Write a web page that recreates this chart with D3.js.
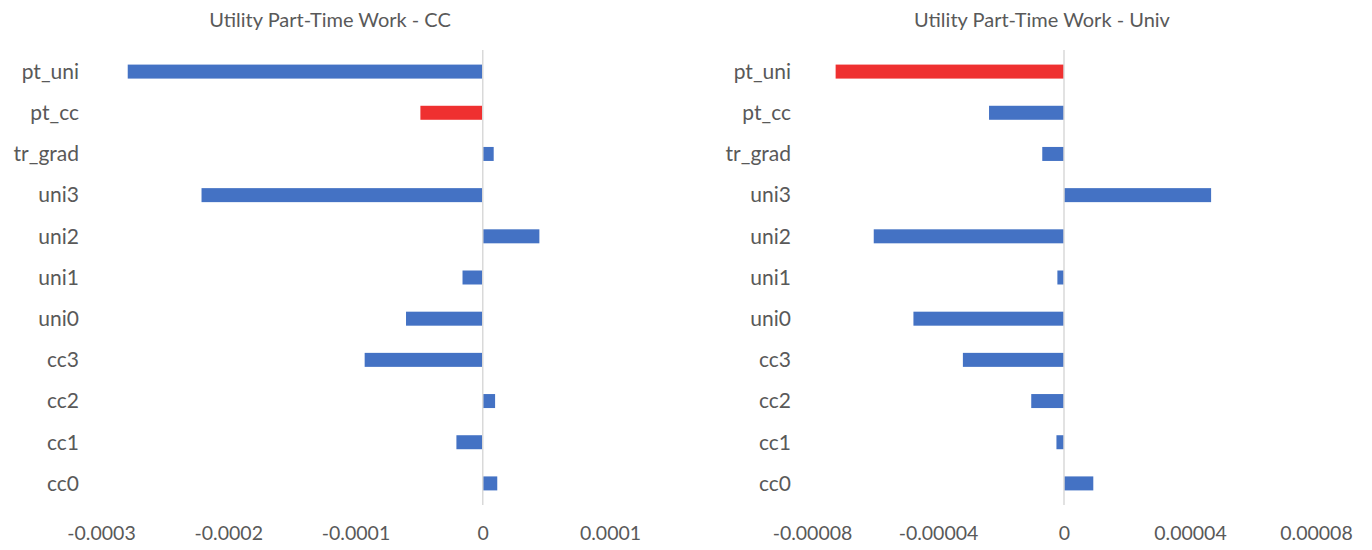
<!DOCTYPE html>
<html>
<head>
<meta charset="utf-8">
<script src="https://cdn.jsdelivr.net/npm/d3@7"></script>
<style>
  html, body { margin: 0; padding: 0; background: #ffffff; }
  svg { display: block; }
  text { font-family: Lato, "Open Sans", sans-serif; fill: #595959; }
</style>
</head>
<body>
<svg id="chart" width="1372" height="550"></svg>
<script>
// Utility coefficients by variable, listed bottom-to-top as in the source table
const categories = ["cc0", "cc1", "cc2", "cc3", "uni0", "uni1", "uni2", "uni3", "tr_grad", "pt_cc", "pt_uni"];

const ccValues = [0.0000114, -0.0000207, 0.0000097, -0.0000928, -0.0000603, -0.0000159,
                  0.0000445, -0.000221, 0.0000086, -0.000049, -0.000279];
const univValues = [0.0000093, -0.0000024, -0.0000104, -0.0000321, -0.0000478, -0.0000021,
                    -0.0000604, 0.0000467, -0.0000069, -0.0000238, -0.0000725];

const ccTicks = [-0.0003, -0.0002, -0.0001, 0, 0.0001];
const ccTickLabels = ["-0.0003", "-0.0002", "-0.0001", "0", "0.0001"];
const univTicks = [-0.00008, -0.00004, 0, 0.00004, 0.00008];
const univTickLabels = ["-0.00008", "-0.00004", "0", "0.00004", "0.00008"];

const ccTitle = "Utility Part-Time Work - CC";
const univTitle = "Utility Part-Time Work - Univ";
const ccHighlight = "pt_cc";
const univHighlight = "pt_uni";

const BLUE = "#4472C4";
const RED = "#EF3030";

const svg = d3.select("#chart");

function drawPanel(opts) {
  const g = svg.append("g");
  const x = d3.scaleLinear().domain(opts.domain).range(opts.xRange);
  const y = d3.scaleBand()
    .domain(categories.slice().reverse())
    .range([51, 504])
    .paddingInner(0.66)
    .paddingOuter(0.33);

  // bars
  g.selectAll("rect.bar")
    .data(categories.map((c, i) => ({ cat: c, v: opts.values[i] })))
    .join("rect")
    .attr("class", "bar")
    .attr("x", d => x(Math.min(0, d.v)))
    .attr("width", d => Math.abs(x(d.v) - x(0)))
    .attr("y", d => y(d.cat) + y.bandwidth() / 2 - 7)
    .attr("height", 14)
    .attr("fill", d => d.cat === opts.highlight ? RED : BLUE);

  // zero line
  g.append("line")
    .attr("x1", x(0)).attr("x2", x(0))
    .attr("y1", 50).attr("y2", 505)
    .attr("stroke", "#d9d9d9")
    .attr("stroke-width", 1.5);

  // value axis
  const xAxis = d3.axisBottom(x)
    .tickValues(opts.ticks)
    .tickFormat((d, i) => opts.tickLabels[i])
    .tickSize(0)
    .tickPadding(0);
  const ax = g.append("g").attr("transform", "translate(0,533)").call(xAxis);
  ax.select(".domain").remove();
  ax.selectAll("text")
    .attr("font-size", 19.5)
    .attr("font-family", null)
    .attr("fill", "#595959")
    .attr("y", 0)
    .attr("dy", "0.35em")
    .attr("text-anchor", "middle");

  // category labels
  g.selectAll("text.cat")
    .data(categories)
    .join("text")
    .attr("class", "cat")
    .attr("x", opts.labelX)
    .attr("y", d => y(d) + y.bandwidth() / 2)
    .attr("dy", "0.35em")
    .attr("text-anchor", "end")
    .attr("font-size", 21)
    .text(d => d);

  // title
  g.append("text")
    .attr("x", opts.titleX)
    .attr("y", 20)
    .attr("dy", "0.35em")
    .attr("text-anchor", "middle")
    .attr("font-size", 20)
    .text(opts.title);
}

drawPanel({
  domain: [-0.0003, 0.0001], xRange: [101, 610],
  values: ccValues, ticks: ccTicks, tickLabels: ccTickLabels,
  highlight: ccHighlight, labelX: 79, titleX: 330, title: ccTitle
});

drawPanel({
  domain: [-0.00008, 0.00008], xRange: [812, 1316],
  values: univValues, ticks: univTicks, tickLabels: univTickLabels,
  highlight: univHighlight, labelX: 791, titleX: 1042, title: univTitle
});
</script>
</body>
</html>
